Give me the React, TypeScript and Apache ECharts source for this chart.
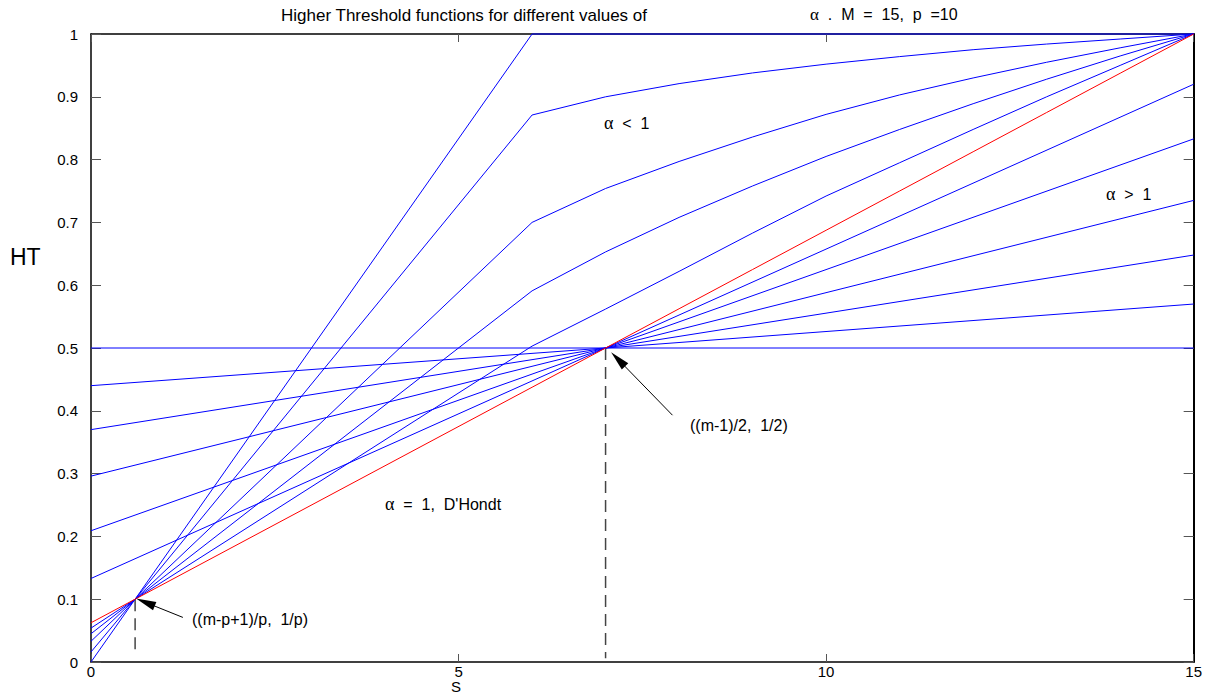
import React, { useEffect, useRef } from "react";
import * as echarts from "echarts";

// ---- data ----
// S values where the alpha<1 curves and the D'Hondt line are sampled
const sLow = [0, 0.6, 6, 7, 8, 9, 10, 11, 12, 13, 14, 15];
const dHondt = [0.0625, 0.1, 0.4375, 0.5, 0.5625, 0.625, 0.6875, 0.75, 0.8125, 0.875, 0.9375, 1];
const alphaBelow1 = [0, 0.1, 1, 1, 1, 1, 1, 1, 1, 1, 1, 1];
const alphaBelow2 = [0.016, 0.1, 0.871, 0.9, 0.921, 0.938, 0.952, 0.964, 0.975, 0.984, 0.992, 1];
const alphaBelow3 = [0.033, 0.1, 0.7, 0.754, 0.797, 0.836, 0.872, 0.903, 0.93, 0.955, 0.978, 1];
const alphaBelow4 = [0.045, 0.1, 0.591, 0.653, 0.708, 0.758, 0.805, 0.848, 0.889, 0.928, 0.965, 1];
const alphaBelow5 = [0.054, 0.1, 0.503, 0.562, 0.622, 0.683, 0.742, 0.795, 0.848, 0.9, 0.95, 1];

// S values where the alpha>1 lines are sampled
const sHigh = [0, 7, 15];
const alphaAbove1 = [0.5, 0.5, 0.5];
const alphaAbove2 = [0.44, 0.5, 0.57];
const alphaAbove3 = [0.37, 0.5, 0.648];
const alphaAbove4 = [0.296, 0.5, 0.735];
const alphaAbove5 = [0.209, 0.5, 0.833];
const alphaAbove6 = [0.133, 0.5, 0.92];

// marked points and their drop lines
const pointA = [0.6, 0.1];
const pointAFoot = 0.015;
const pointB = [7, 0.5];
const pointBFoot = 0.006;
// arrows: [tailS, tailHT, tipS, tipHT]
const arrowA = [1.25, 0.071, 0.74, 0.095];
const arrowB = [7.91, 0.393, 7.17, 0.482];

const xTicks = { min: 0, max: 15, interval: 5 };
const yTicks = { min: 0, max: 1, interval: 0.1 };

const FONT = "'Liberation Sans', Arial, sans-serif";
const SERIF = "'Liberation Serif', 'DejaVu Serif', serif";
const BLUE = "#0000ff";
const RED = "#ff0000";

function pairs(xs: number[], ys: number[]) {
  return xs.map((x, i) => [x, ys[i]]);
}

export default function App() {
  const ref = useRef<HTMLDivElement>(null);
  useEffect(() => {
    if (!ref.current) return;
    const chart = echarts.init(ref.current, null, { renderer: "svg" });

    const blueLow = [alphaBelow1, alphaBelow2, alphaBelow3, alphaBelow4, alphaBelow5];
    const blueHigh = [alphaAbove1, alphaAbove2, alphaAbove3, alphaAbove4, alphaAbove5, alphaAbove6];

    const lineSeries = (name: string, data: number[][], color: string) => ({
      name,
      type: "line",
      data,
      showSymbol: false,
      symbol: "none",
      silent: true,
      clip: false,
      lineStyle: { color, width: 1 },
      z: 3,
    });

    const series: any[] = [];
    blueHigh.forEach((ys, i) => series.push(lineSeries("high" + i, pairs(sHigh, ys), BLUE)));
    blueLow.forEach((ys, i) => series.push(lineSeries("low" + i, pairs(sLow, ys), BLUE)));
    series.push({ ...lineSeries("dhondt", pairs(sLow, dHondt), RED), z: 4 });

    const dashStyle = { color: "#444", width: 1.5, type: [12, 7] };
    series.push({
      name: "dropA",
      type: "line",
      data: [pointA, [pointA[0], pointAFoot]],
      symbol: "none",
      silent: true,
      lineStyle: dashStyle,
      z: 2,
    });
    series.push({
      name: "dropB",
      type: "line",
      data: [pointB, [pointB[0], pointBFoot]],
      symbol: "none",
      silent: true,
      lineStyle: dashStyle,
      z: 2,
      markLine: {
        silent: true,
        symbol: ["none", "triangle"],
        label: { show: false },
        lineStyle: { color: "#000", width: 1, type: "solid" },
        data: [arrowA, arrowB].map((a) => [
          { coord: [a[0], a[1]], symbolSize: 0 },
          { coord: [a[2], a[3]], symbolSize: [9, 20] },
        ]),
      },
    });

    const axisLine = { show: true, onZero: false, lineStyle: { color: "#000", width: 1.5 } };
    const tickStyle = { color: "#555", width: 1 };
    const alphaRich = { a: { fontFamily: SERIF, fontSize: 18, fill: "#000" } };

    chart.setOption({
      animation: false,
      grid: { left: 91, right: 8, top: 34, bottom: 33 },
      xAxis: [
        {
          type: "value",
          ...xTicks,
          axisLine,
          axisTick: { inside: true, length: 8, lineStyle: tickStyle },
          axisLabel: { fontSize: 15, color: "#000", fontFamily: FONT, margin: 2 },
          splitLine: { show: false },
        },
        {
          type: "value",
          position: "top",
          ...xTicks,
          axisLine,
          axisTick: { inside: true, length: 8, lineStyle: tickStyle },
          axisLabel: { show: false },
          splitLine: { show: false },
        },
      ],
      yAxis: [
        {
          type: "value",
          ...yTicks,
          axisLine,
          axisTick: { inside: true, length: 10, lineStyle: tickStyle },
          axisLabel: { fontSize: 15, color: "#000", fontFamily: FONT, margin: 13 },
          splitLine: { show: false },
        },
        {
          type: "value",
          position: "right",
          ...yTicks,
          axisLine: { ...axisLine, lineStyle: { color: "#000", width: 2 } },
          axisTick: { inside: true, length: 10, lineStyle: tickStyle },
          axisLabel: { show: false },
          splitLine: { show: false },
        },
      ],
      series,
      graphic: [
        {
          type: "text",
          left: 281,
          top: 7,
          style: { text: "Higher Threshold functions for different values of", fontSize: 17, fontFamily: FONT, fill: "#000" },
        },
        {
          type: "text",
          left: 810,
          top: 6,
          style: {
            text: "{a|α}  .  M  =  15,  p  =10",
            fontSize: 16,
            fontFamily: FONT,
            fill: "#000",
            rich: { a: { fontFamily: SERIF, fontSize: 17, fill: "#000" } },
          },
        },
        {
          type: "text",
          left: 10,
          top: 245,
          style: { text: "HT", fontSize: 23, fontFamily: FONT, fill: "#000" },
        },
        {
          type: "text",
          left: 451,
          top: 679,
          style: { text: "S", fontSize: 15, fontFamily: FONT, fill: "#000" },
        },
        {
          type: "text",
          left: 604,
          top: 114,
          style: { text: "{a|α}  <  1", fontSize: 16, fontFamily: FONT, fill: "#000", rich: alphaRich },
        },
        {
          type: "text",
          left: 1106,
          top: 185,
          style: { text: "{a|α}  >  1", fontSize: 16, fontFamily: FONT, fill: "#000", rich: alphaRich },
        },
        {
          type: "text",
          left: 385,
          top: 495,
          style: { text: "{a|α}  =  1,  D'Hondt", fontSize: 16, fontFamily: FONT, fill: "#000", rich: alphaRich },
        },
        {
          type: "text",
          left: 192,
          top: 611,
          style: { text: "((m-p+1)/p,  1/p)", fontSize: 16, fontFamily: FONT, fill: "#000" },
        },
        {
          type: "text",
          left: 690,
          top: 417,
          style: { text: "((m-1)/2,  1/2)", fontSize: 16, fontFamily: FONT, fill: "#000" },
        },
      ],
    });

    return () => chart.dispose();
  }, []);

  return (
    <div
      ref={ref}
      style={{ position: "absolute", left: 0, top: 0, width: 1205, height: 695, background: "#fff" }}
    />
  );
}
